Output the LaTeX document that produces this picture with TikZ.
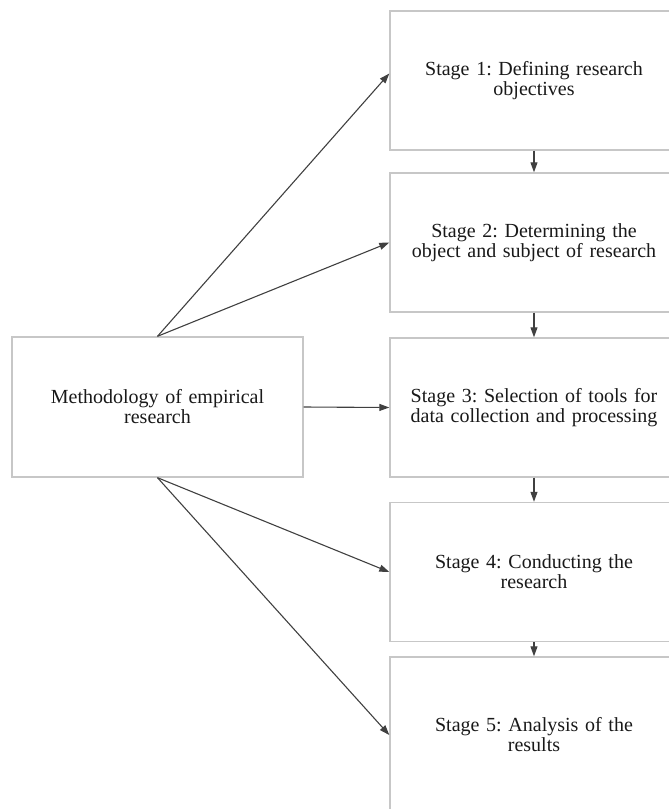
\documentclass[tikz,border=0pt]{standalone}
\usepackage{fontspec}
\setmainfont{Liberation Serif}
\usetikzlibrary{arrows.meta}
\frenchspacing

\begin{document}
\begin{tikzpicture}[x=1pt,y=-1pt,
    box/.style={draw=black!22, line width=1.4pt, fill=white, align=center,
        text=black!90, inner sep=0pt, font=\fontsize{20}{20}\selectfont},
    stagebox/.style={box, minimum width=288pt, minimum height=139pt, text width=280pt},
    link/.style={draw=black!75, line width=1.1pt, -{Triangle[length=10pt,width=7pt]}}]
        \useasboundingbox (0,0) rectangle (669,809);
        % left box
        \node[box, minimum width=291pt, minimum height=140pt, text width=280pt] (meth) at (157.5,407) {Methodology of empirical\\research};
        % stages
        \node[stagebox] (s1) at (534,80.5) {Stage 1: Defining research\\objectives};
        \node[stagebox] (s2) at (534,242.5) {Stage 2: Determining the\\object and subject of research};
        \node[stagebox] (s3) at (534,407.5) {Stage 3: Selection of tools for\\data collection and processing};
        \node[stagebox] (s4) at (534,572) {Stage 4: Conducting the\\research};
        \node[stagebox, minimum height=156pt] (s5) at (534,735) {Stage 5: Analysis of the\\results};
        % arrows between stages
        \draw[link] (s1.south) -- (s2.north);
        \draw[link] (s2.south) -- (s3.north);
        \draw[link] (s3.south) -- (s4.north);
        \draw[link] (s4.south) -- (s5.north);
        % arrows from the left box
        \draw[link] (meth.north) -- ([yshift=7pt]s1.west);
        \draw[link] (meth.north) -- (s2.west);
        \draw[link] (meth.east) -- (s3.west);
        \draw[link] (meth.south) -- (s4.west);
        \draw[link] (meth.south) -- (s5.west);
\end{tikzpicture}
\end{document}
